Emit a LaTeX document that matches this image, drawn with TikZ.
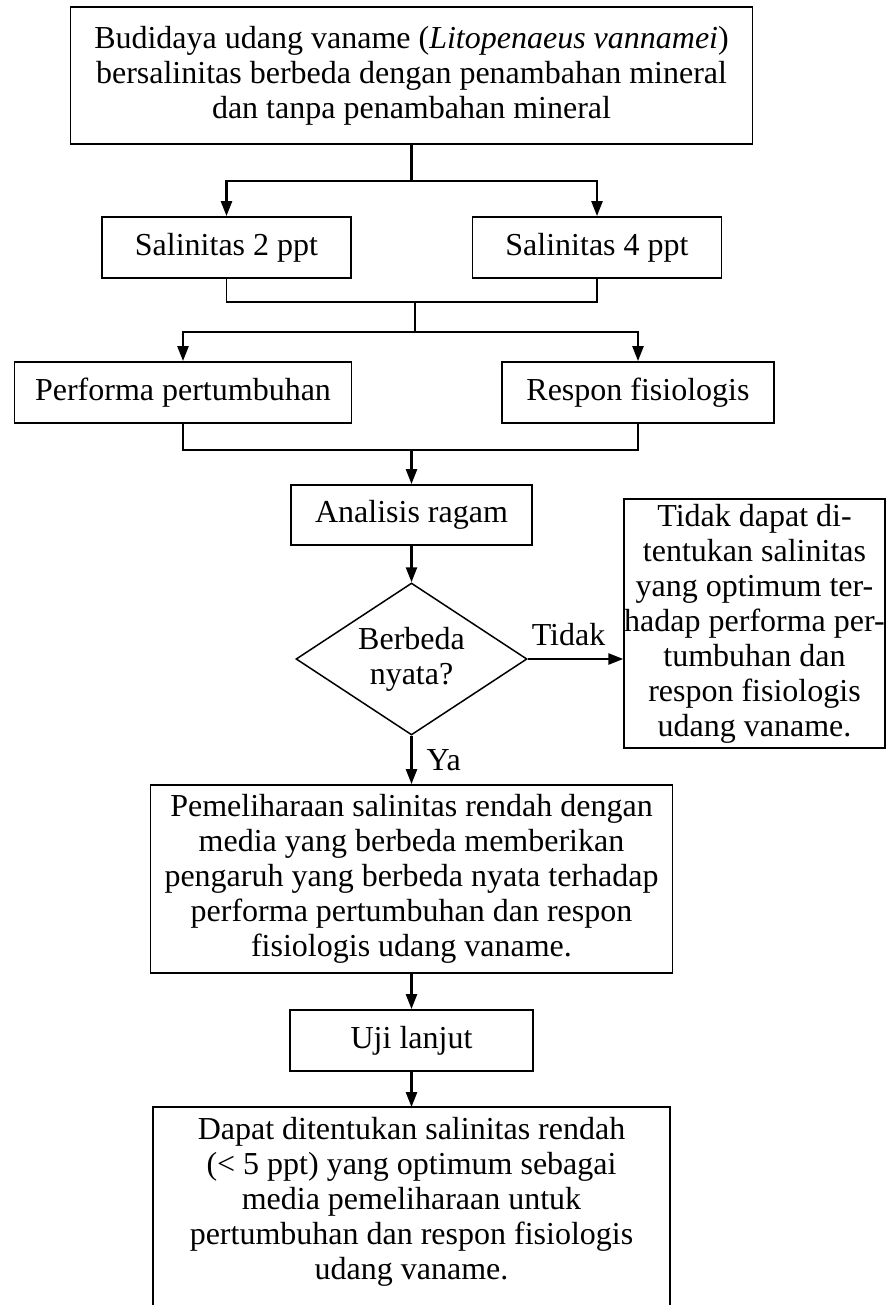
\documentclass[tikz,border=0pt]{standalone}
\usepackage{fontspec}
\setmainfont{Liberation Serif}
\usetikzlibrary{shapes.geometric,arrows.meta}

\begin{document}
\begin{tikzpicture}[x=1pt, y=-1pt, font=\fontsize{32}{35}\selectfont,
  box/.style={draw, line width=1.8pt, align=center, inner sep=0pt},
  flowarrow/.style={line width=2.4pt, -{Triangle[length=15pt,width=11pt]}},
  link/.style={line width=2.4pt},
  merge/.style={line width=1.4pt},
  lbl/.style={inner sep=0pt}]
  % page frame
  \useasboundingbox (0,0) rectangle (886,1305);

  \node[box, minimum width=682pt, minimum height=137pt] (top) at (411.5,75.5)
    {Budidaya udang vaname (\textit{Litopenaeus vannamei})\\bersalinitas berbeda dengan penambahan mineral\\dan tanpa penambahan mineral};

  \node[box, minimum width=249pt, minimum height=61pt] (sal2) at (226.5,247.5) {Salinitas 2 ppt};
  \node[box, minimum width=249pt, minimum height=61pt] (sal4) at (597,247.5) {Salinitas 4 ppt};

  \node[box, minimum width=337pt, minimum height=61pt] (perf) at (183,392.5) {Performa pertumbuhan};
  \node[box, minimum width=272pt, minimum height=61pt] (resp) at (638,392.5) {Respon fisiologis};

  \node[box, minimum width=241pt, minimum height=60pt] (anova) at (411.5,515) {Analisis ragam};
  \node[diamond, draw, line width=1.5pt, align=center, inner sep=0pt, shape aspect=1.52,
        minimum width=231pt, minimum height=152pt] (dec) at (411.5,659) {Berbeda\\nyata?};
  \node[box, minimum width=258pt, minimum height=249pt] (nodiff) at (754.5,623.5)
    {Tidak dapat di-\\tentukan salinitas\\yang optimum ter-\\hadap performa per-\\tumbuhan dan\\respon fisiologis\\udang vaname.};

  \node[box, minimum width=522pt, minimum height=188pt] (pel) at (411.5,879)
    {Pemeliharaan salinitas rendah dengan\\media yang berbeda memberikan\\pengaruh yang berbeda nyata terhadap\\performa pertumbuhan dan respon\\fisiologis udang vaname.};
  \node[box, minimum width=243pt, minimum height=61pt] (uji) at (411.5,1040.5) {Uji lanjut};
  \node[box, draw=none, minimum width=515pt, minimum height=188pt] (final) at (411.5,1202)
    {Dapat ditentukan salinitas rendah\\(< 5 ppt) yang optimum sebagai\\media pemeliharaan untuk\\pertumbuhan dan respon fisiologis\\udang vaname.};

  \coordinate (split1) at (411.5,181);
  \coordinate (merge1) at (415,302);
  \coordinate (split2) at (415,332);
  \coordinate (merge2) at (411.5,450);
  \coordinate (bot) at (0,1305);

  \draw[link] (top.south) -- (split1);
  \draw[flowarrow] (split1) -| (sal2.north);
  \draw[flowarrow] (split1) -| (sal4.north);
  \draw[merge] (sal2.south) |- (merge1) -| (sal4.south);
  \draw[link] (merge1) -- (split2);
  \draw[flowarrow] (split2) -| (perf.north);
  \draw[flowarrow] (split2) -| (resp.north);
  \draw[merge] (perf.south) |- (merge2) -| (resp.south);
  \draw[flowarrow] (merge2) -- (anova.north);
  \draw[flowarrow] (anova.south) -- (dec.north);
  \draw[flowarrow] (dec.east) -- (dec.east -| nodiff.west)
    node[lbl, midway, above=12pt, xshift=-7pt] (lblno) {Tidak};
  \draw[flowarrow] (dec.south) -- (pel.north)
    node[lbl, midway, right=14pt] (lblyes) {Ya};
  \draw[flowarrow] (pel.south) -- (uji.north);
  \draw[flowarrow] (uji.south) -- (final.north);
  % last box runs off the page
  \draw[line width=1.8pt] (final.north west |- bot) -- (final.north west)
    -- (final.north east) -- (final.north east |- bot);
\end{tikzpicture}
\end{document}
